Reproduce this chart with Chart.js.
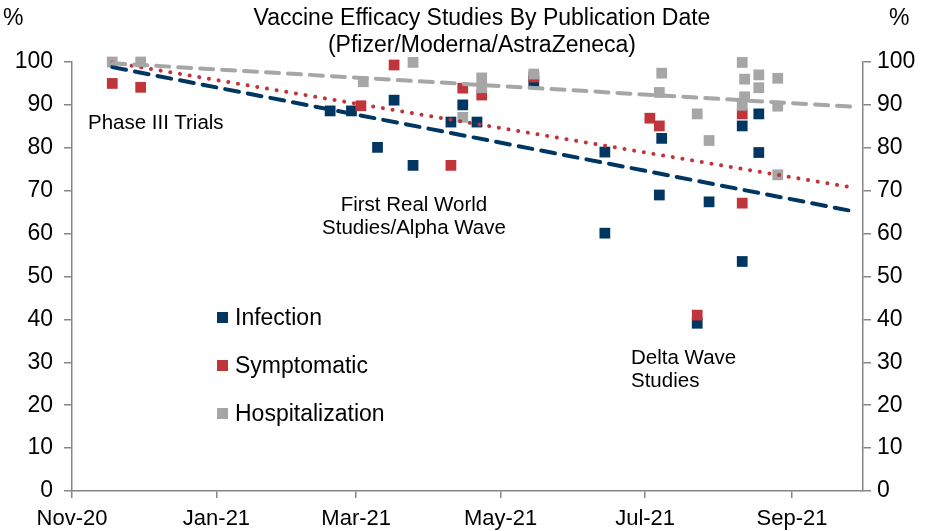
<!DOCTYPE html>
<html>
<head>
<meta charset="utf-8">
<script src="https://cdn.jsdelivr.net/npm/chart.js@4.4.0/dist/chart.umd.min.js"></script>
<style>
  body { margin: 0; background: #fff; }
  #wrap { position: relative; width: 938px; height: 531px; font-family: "Liberation Sans", Arial, sans-serif; color: #000; }
  #chart { position: absolute; left: 0; top: 0; }
  .txt { position: absolute; white-space: nowrap; font-size: 20.5px; line-height: 23px; }
  .mid { transform: translateX(-50%); text-align: center; }
  .tit { font-size: 23px; line-height: 27px; }
  .leg { position: absolute; font-size: 23px; line-height: 26px; white-space: nowrap; }
  .leg i { display: inline-block; width: 11px; height: 11px; margin-right: 7px; vertical-align: 2px; }
</style>
</head>
<body>
<div id="wrap">
  <canvas id="chart" width="938" height="531"></canvas>
  <div class="txt mid tit" style="left:482px; top:4px;">Vaccine Efficacy Studies By Publication Date</div>
  <div class="txt mid tit" style="left:482px; top:31px;">(Pfizer/Moderna/AstraZeneca)</div>
  <div class="txt tit" style="left:3px; top:4px;">%</div>
  <div class="txt tit" style="left:889px; top:4px;">%</div>
  <div class="txt" style="left:88px; top:110px;">Phase III Trials</div>
  <div class="txt mid" style="left:414px; top:192px;">First Real World<br>Studies/Alpha Wave</div>
  <div class="txt" style="left:631px; top:345px;">Delta Wave<br>Studies</div>
  <div class="leg" style="left:217px; top:304px;"><i style="background:#003662"></i>Infection</div>
  <div class="leg" style="left:217px; top:352px;"><i style="background:#c0353a"></i>Symptomatic</div>
  <div class="leg" style="left:217px; top:400px;"><i style="background:#a6a6a6"></i>Hospitalization</div>
</div>
<script>
// Datos (fecha de publicación, eficacia %)
const infeccionFechas = ['2021-02-18', '2021-02-27', '2021-03-10', '2021-03-17', '2021-03-25',
  '2021-04-10', '2021-04-15', '2021-04-21', '2021-05-15', '2021-06-14', '2021-06-14',
  '2021-07-08', '2021-07-07', '2021-07-23', '2021-07-28', '2021-08-11', '2021-08-11',
  '2021-08-18', '2021-08-18'];
const infeccionValores = [88.6, 88.6, 80.1, 91.1, 75.9,
  86.0, 90.0, 86.0, 95.5, 79.0, 60.1,
  82.2, 69.0, 39.1, 67.4, 85.1, 53.5,
  87.9, 78.9];

const sintomaticoFechas = ['2020-11-18', '2020-11-30', '2021-03-03', '2021-03-17', '2021-04-10',
  '2021-04-15', '2021-04-23', '2021-05-15', '2021-07-03', '2021-07-07', '2021-07-23',
  '2021-08-11', '2021-08-11'];
const sintomaticoValores = [95.0, 94.1, 89.8, 99.3, 75.9,
  93.9, 92.3, 96.5, 86.9, 85.1, 41.0,
  87.9, 67.1];

const hospitalFechas = ['2020-11-18', '2020-11-30', '2021-03-04', '2021-03-25', '2021-04-15',
  '2021-04-23', '2021-04-23', '2021-05-15', '2021-07-08', '2021-07-07', '2021-07-23',
  '2021-07-28', '2021-08-11', '2021-08-11', '2021-08-12', '2021-08-12', '2021-08-18',
  '2021-08-18', '2021-08-26', '2021-08-26', '2021-08-26'];
const hospitalValores = [100, 100, 95.4, 99.9, 87.1,
  96.3, 94.0, 97.2, 97.4, 92.9, 87.9,
  81.7, 99.9, 89.9, 96.0, 91.9, 97.0,
  94.0, 96.2, 89.7, 73.7];

// Líneas de tendencia (inicio y fin)
const tendenciaFechas = ['2020-11-18', '2021-09-26'];
const tendenciaInfeccion = [98.8, 65.3];
const tendenciaSintomatico = [99.9, 70.8];
const tendenciaHospital = [99.7, 89.6];

// Eje X
const ejeMin = '2020-11-01';
const ejeMax = '2021-10-01';
const ticksFechas = ['2020-11-01', '2021-01-01', '2021-03-01', '2021-05-01', '2021-07-01', '2021-09-01'];
const ticksEtiquetas = ['Nov-20', 'Jan-21', 'Mar-21', 'May-21', 'Jul-21', 'Sep-21'];

const AZUL = '#003662';
const ROJO = '#c0353a';
const GRIS = '#a6a6a6';
const EJE = '#868686';

function ms(f) {
  const [a, m, d] = f.split('-').map(Number);
  return Date.UTC(a, m - 1, d);
}
function puntos(fechas, valores) {
  return fechas.map((f, i) => ({ x: ms(f), y: valores[i] }));
}

function serie(label, fechas, valores, color, orden) {
  return {
    label,
    data: puntos(fechas, valores),
    pointStyle: 'rect',
    pointRadius: 7.6,
    pointHoverRadius: 7.6,
    backgroundColor: color,
    borderColor: color,
    borderWidth: 0,
    showLine: false,
    clip: false,
    order: orden
  };
}
function tendencia(valores, color, dash, ancho) {
  return {
    label: 'tendencia',
    data: puntos(tendenciaFechas, valores),
    showLine: true,
    pointRadius: 0,
    borderColor: color,
    borderWidth: ancho,
    borderDash: dash,
    borderCapStyle: 'round',
    fill: false,
    clip: false,
    order: 0
  };
}

const fuente = { family: '"Liberation Sans", Arial, sans-serif', size: 22 };

new Chart(document.getElementById('chart'), {
  type: 'scatter',
  data: {
    datasets: [
      tendencia(tendenciaHospital, GRIS, [13, 9], 4),
      tendencia(tendenciaSintomatico, ROJO, [0.1, 9.7], 4),
      tendencia(tendenciaInfeccion, AZUL, [14, 9], 4),
      serie('Hospitalization', hospitalFechas, hospitalValores, GRIS, 1),
      serie('Symptomatic', sintomaticoFechas, sintomaticoValores, ROJO, 2),
      serie('Infection', infeccionFechas, infeccionValores, AZUL, 3)
    ]
  },
  options: {
    responsive: false,
    animation: false,
    layout: { padding: { top: 62, bottom: 0, left: 0, right: 0 } },
    plugins: { legend: { display: false }, tooltip: { enabled: false } },
    scales: {
      x: {
        type: 'linear',
        min: ms(ejeMin),
        max: ms(ejeMax),
        afterBuildTicks: s => { s.ticks = ticksFechas.map(f => ({ value: ms(f) })); },
        afterFit: s => { s.height = 40; },
        border: { color: EJE, width: 1.5 },
        grid: { drawOnChartArea: false, tickLength: 7, color: EJE, lineWidth: 1.5 },
        ticks: {
          autoSkip: false, maxRotation: 0, padding: 8, color: '#000', font: fuente,
          callback: (v, i) => ticksEtiquetas[i]
        }
      },
      y: {
        position: 'left',
        min: 0, max: 100,
        afterFit: s => { s.width = 72; },
        border: { color: EJE, width: 1.5 },
        grid: { drawOnChartArea: false, tickLength: 8, color: EJE, lineWidth: 1.5 },
        ticks: { stepSize: 10, padding: 11, color: '#000', font: { family: fuente.family, size: 23 } }
      },
      y2: {
        position: 'right',
        min: 0, max: 100,
        afterFit: s => { s.width = 75; },
        border: { color: EJE, width: 1.5 },
        grid: { drawOnChartArea: false, tickLength: 8, color: EJE, lineWidth: 1.5 },
        ticks: { stepSize: 10, padding: 6, color: '#000', font: { family: fuente.family, size: 23 } }
      }
    }
  }
});
</script>
</body>
</html>
